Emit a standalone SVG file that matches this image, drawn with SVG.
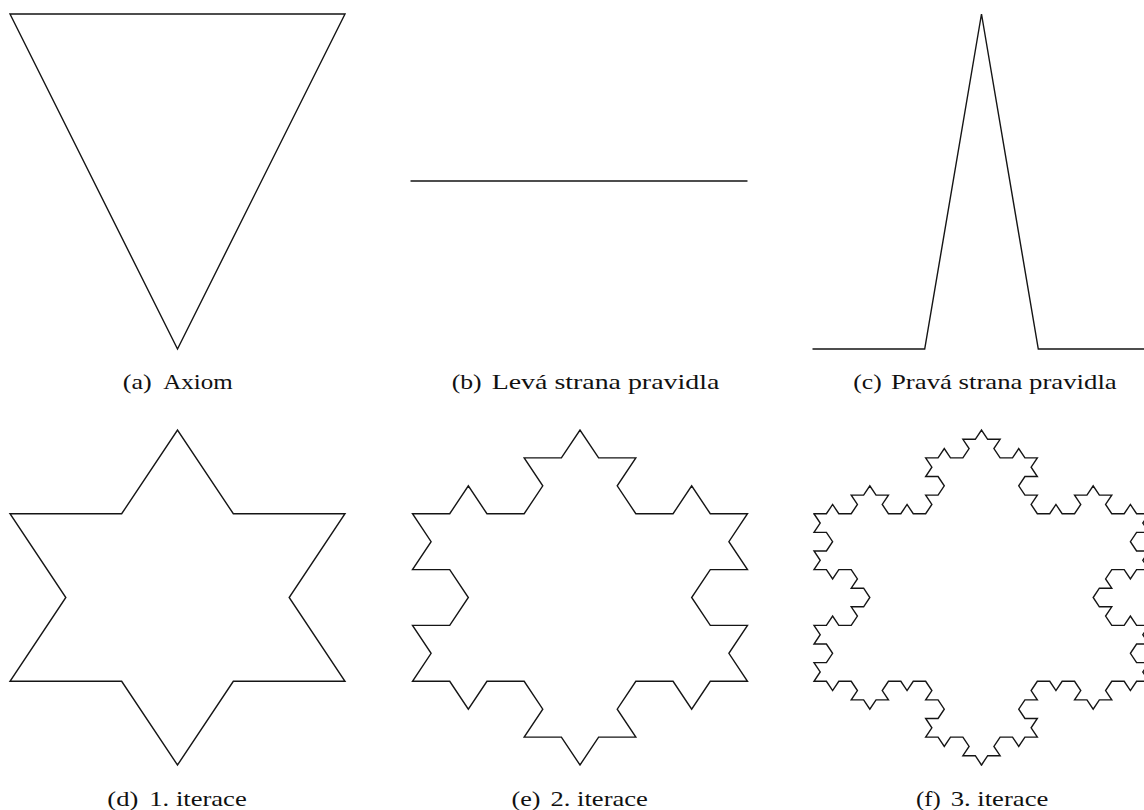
<svg xmlns="http://www.w3.org/2000/svg" width="1144" height="810" viewBox="0 0 1144 810">
<style>
.k{fill:none;stroke:#151515;stroke-width:1.4;stroke-linejoin:miter;stroke-linecap:round;vector-effect:non-scaling-stroke}
.t{font-family:"Liberation Serif","Times New Roman",serif;font-size:22px;fill:#111}
</style>
<defs>
<path id="side3" class="k" vector-effect="non-scaling-stroke" transform="scale(1,1.7320508)" d="M0 0 l2 0 1 -1 1 1 2 0 1 -1 -1 -1 2 0 1 -1 1 1 2 0 -1 1 1 1 2 0 1 -1 1 1 2 0 1 -1 -1 -1 2 0 1 -1 -1 -1 -2 0 1 -1 -1 -1 2 0 1 -1 1 1 2 0 1 -1 -1 -1 2 0 1 -1 1 1 2 0 -1 1 1 1 2 0 1 -1 1 1 2 0 -1 1 1 1 -2 0 -1 1 1 1 2 0 -1 1 1 1 2 0 1 -1 1 1 2 0 1 -1 -1 -1 2 0 1 -1 1 1 2 0 -1 1 1 1 2 0 1 -1 1 1 2 0"/>
</defs>
<rect width="1144" height="810" fill="#fff"/>
<g id="panel-a">
<polygon class="k" points="10,14 345,14 177.5,349"/>
<text class="t" x="122.7" y="389" textLength="29" lengthAdjust="spacingAndGlyphs">(a)</text>
<text class="t" x="163.3" y="389" textLength="69.4" lengthAdjust="spacingAndGlyphs">Axiom</text>
</g>
<g id="panel-b">
<line class="k" x1="411" y1="181" x2="747" y2="181"/>
<text class="t" x="451.7" y="389" textLength="30" lengthAdjust="spacingAndGlyphs">(b)</text>
<text class="t" x="491.7" y="389" textLength="227.6" lengthAdjust="spacingAndGlyphs">Levá strana pravidla</text>
</g>
<g id="panel-c">
<polyline class="k" points="813,349 924.7,349 981.5,14 1038.3,349 1150,349"/>
<text class="t" x="853.3" y="389" textLength="28.4" lengthAdjust="spacingAndGlyphs">(c)</text>
<text class="t" x="891" y="389" textLength="225.7" lengthAdjust="spacingAndGlyphs">Pravá strana pravidla</text>
</g>
<g id="panel-d">
<path class="k" vector-effect="non-scaling-stroke" transform="translate(10,513.75) scale(6.2037,9.3056)" d="M0 0 l18 0 9 -9 9 9 18 0 -9 9 9 9 -18 0 -9 9 -9 -9 -18 0 9 -9 -9 -9 z"/>
<text class="t" x="107.3" y="806" textLength="31" lengthAdjust="spacingAndGlyphs">(d)</text>
<text class="t" x="149.3" y="806" textLength="97.4" lengthAdjust="spacingAndGlyphs">1. iterace</text>
</g>
<g id="panel-e">
<path class="k" vector-effect="non-scaling-stroke" transform="translate(412.5,513.75) scale(6.2037,9.3056)" d="M0 0 l6 0 3 -3 3 3 6 0 3 -3 -3 -3 6 0 3 -3 3 3 6 0 -3 3 3 3 6 0 3 -3 3 3 6 0 -3 3 3 3 -6 0 -3 3 3 3 6 0 -3 3 3 3 -6 0 -3 3 -3 -3 -6 0 -3 3 3 3 -6 0 -3 3 -3 -3 -6 0 3 -3 -3 -3 -6 0 -3 3 -3 -3 -6 0 3 -3 -3 -3 6 0 3 -3 -3 -3 -6 0 3 -3 -3 -3 z"/>
<text class="t" x="511.5" y="806" textLength="29" lengthAdjust="spacingAndGlyphs">(e)</text>
<text class="t" x="550.5" y="806" textLength="97.4" lengthAdjust="spacingAndGlyphs">2. iterace</text>
</g>
<g id="panel-f">
<g transform="translate(814,513.75) scale(6.2037,5.37259)">
<use href="#side3"/>
<use href="#side3" transform="translate(54,0) rotate(120)"/>
<use href="#side3" transform="translate(27,46.7654) rotate(240)"/>
</g>
<text class="t" x="916" y="806" textLength="24.7" lengthAdjust="spacingAndGlyphs">(f)</text>
<text class="t" x="950.7" y="806" textLength="97.6" lengthAdjust="spacingAndGlyphs">3. iterace</text>
</g>
</svg>
